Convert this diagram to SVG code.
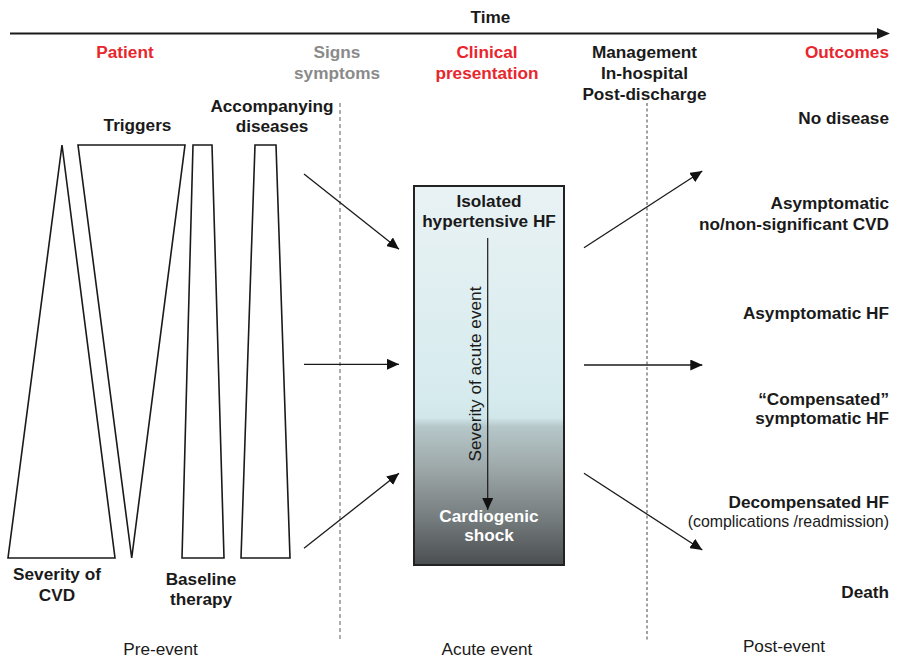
<svg xmlns="http://www.w3.org/2000/svg" width="898" height="659" viewBox="0 0 898 659">
<defs>
<linearGradient id="sev" x1="0" y1="0" x2="0" y2="1">
<stop offset="0" stop-color="#e9f2f4"/>
<stop offset="0.56" stop-color="#d6ebee"/>
<stop offset="0.612" stop-color="#d0e6e9"/>
<stop offset="0.635" stop-color="#b6c7c9"/>
<stop offset="0.75" stop-color="#9ca6a7"/>
<stop offset="0.88" stop-color="#747b7c"/>
<stop offset="1" stop-color="#4a4e50"/>
</linearGradient>
<marker id="ah" viewBox="0 0 12 11" refX="12" refY="5.5" markerWidth="12" markerHeight="11" markerUnits="userSpaceOnUse" orient="auto">
<path d="M0,0 L12,5.5 L0,11 Z" fill="#111"/>
</marker>
</defs>
<style>
text{font-family:"Liberation Sans",Arial,sans-serif;}
.b{font-weight:bold;font-size:17.2px;fill:#1a1a1a;}
.red{font-weight:bold;font-size:17.2px;fill:#e8262d;}
.grey{font-weight:bold;font-size:17.2px;fill:#8a8a8a;}
.r{font-size:17.2px;fill:#1a1a1a;}
.s{font-size:15.9px;fill:#1a1a1a;}
.w{font-weight:bold;font-size:17.2px;fill:#ffffff;}
.shape{fill:#ffffff;stroke:#1a1a1a;stroke-width:1.6;stroke-linejoin:miter;}
.conn{stroke:#1a1a1a;stroke-width:1.3;fill:none;marker-end:url(#ah);}
.dash1{stroke:#8a8a8a;stroke-width:1.4;stroke-dasharray:4,3;}
.dash2{stroke:#444;stroke-width:1;stroke-dasharray:3,2.5;}
</style>
<rect width="898" height="659" fill="#ffffff"/>

<g id="timeline">
<line x1="10" y1="33.5" x2="878" y2="33.5" stroke="#1a1a1a" stroke-width="2"/>
<path d="M877,28 L890,33.5 L877,39 Z" fill="#1a1a1a"/>
<text class="b" x="490.5" y="22.5" text-anchor="middle">Time</text>
</g>

<g id="headers">
<text class="red" x="125" y="58" text-anchor="middle">Patient</text>
<text class="grey" x="337" y="58" text-anchor="middle">Signs</text>
<text class="grey" x="337" y="79" text-anchor="middle">symptoms</text>
<text class="red" x="487" y="58" text-anchor="middle">Clinical</text>
<text class="red" x="487" y="79" text-anchor="middle">presentation</text>
<text class="b" x="644.5" y="58" text-anchor="middle">Management</text>
<text class="b" x="644.5" y="79" text-anchor="middle">In-hospital</text>
<text class="b" x="644.5" y="99.5" text-anchor="middle">Post-discharge</text>
<text class="red" x="889" y="58" text-anchor="end">Outcomes</text>
</g>

<g id="dividers">
<line class="dash1" x1="340" y1="103" x2="340" y2="642"/>
<line class="dash2" x1="647" y1="103" x2="647" y2="642"/>
</g>

<g id="severity-cvd">
<polygon class="shape" points="62,145 115,558 8,558"/>
<text class="b" x="57" y="580" text-anchor="middle">Severity of</text>
<text class="b" x="57" y="600.5" text-anchor="middle">CVD</text>
</g>
<g id="triggers">
<polygon class="shape" points="78,145 185,145 131.7,558"/>
<text class="b" x="137.5" y="130.5" text-anchor="middle">Triggers</text>
</g>
<g id="baseline-therapy">
<polygon class="shape" points="193,145 212,145 224,558 182,558"/>
<text class="b" x="201" y="585" text-anchor="middle">Baseline</text>
<text class="b" x="201" y="605" text-anchor="middle">therapy</text>
</g>
<g id="accompanying-diseases">
<polygon class="shape" points="255,145 276,145 290,558 241,558"/>
<text class="b" x="272" y="111.5" text-anchor="middle">Accompanying</text>
<text class="b" x="272" y="131.5" text-anchor="middle">diseases</text>
</g>

<g id="clinical-presentation">
<rect x="414" y="186" width="150" height="379" fill="url(#sev)" stroke="#222" stroke-width="2"/>
<text class="b" x="489" y="206.5" text-anchor="middle">Isolated</text>
<text class="b" x="489" y="226.5" text-anchor="middle">hypertensive HF</text>
<line x1="487.7" y1="238" x2="487.7" y2="510" stroke="#1a1a1a" stroke-width="1.2" marker-end="url(#ah)"/>
<text class="r" transform="translate(481,374) rotate(-90)" text-anchor="middle">Severity of acute event</text>
<text class="w" x="489" y="522" text-anchor="middle">Cardiogenic</text>
<text class="w" x="489" y="541" text-anchor="middle">shock</text>
</g>

<g id="connectors">
<line class="conn" x1="304" y1="174" x2="399" y2="249.3"/>
<line class="conn" x1="304" y1="364.3" x2="399" y2="364.3"/>
<line class="conn" x1="304" y1="548.3" x2="399" y2="473.3"/>
<line class="conn" x1="584" y1="247.7" x2="702.3" y2="171"/>
<line class="conn" x1="584" y1="365" x2="702.3" y2="365"/>
<line class="conn" x1="584" y1="473.3" x2="702.3" y2="550"/>
</g>

<g id="outcomes">
<text class="b" x="889" y="124.3" text-anchor="end">No disease</text>
<text class="b" x="889" y="209" text-anchor="end">Asymptomatic</text>
<text class="b" x="889" y="230" text-anchor="end">no/non-significant CVD</text>
<text class="b" x="889" y="319" text-anchor="end">Asymptomatic HF</text>
<text class="b" x="889" y="405" text-anchor="end">“Compensated”</text>
<text class="b" x="889" y="424.3" text-anchor="end">symptomatic HF</text>
<text class="b" x="889" y="508.3" text-anchor="end">Decompensated HF</text>
<text class="s" x="889" y="526.7" text-anchor="end">(complications /readmission)</text>
<text class="b" x="889" y="598.3" text-anchor="end">Death</text>
</g>

<g id="phases">
<text class="r" x="160.5" y="655" text-anchor="middle">Pre-event</text>
<text class="r" x="487" y="655" text-anchor="middle">Acute event</text>
<text class="r" x="784" y="652" text-anchor="middle">Post-event</text>
</g>
</svg>
